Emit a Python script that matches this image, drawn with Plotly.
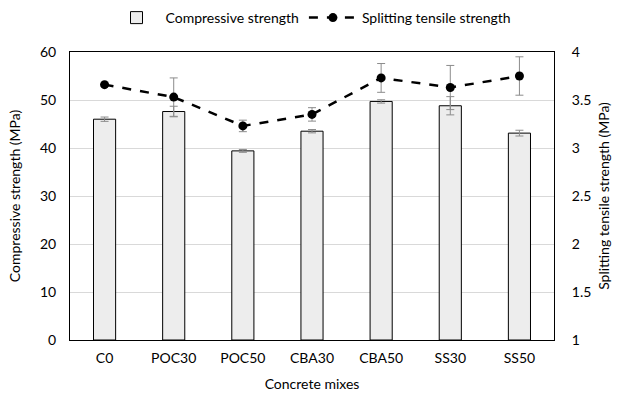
import plotly.graph_objects as go

mixes = ["C0", "POC30", "POC50", "CBA30", "CBA50", "SS30", "SS50"]
compressive = [46.0, 47.6, 39.4, 43.5, 49.7, 48.8, 43.1]
compressive_err = [0.45, 1.1, 0.3, 0.35, 0.35, 1.9, 0.6]
tensile = [3.66, 3.53, 3.23, 3.35, 3.73, 3.63, 3.75]
tensile_err = [0.0, 0.2, 0.06, 0.07, 0.15, 0.23, 0.2]

FONT = "Lato"

fig = go.Figure()
fig.add_trace(go.Bar(
    x=mixes, y=compressive, name="Compressive strength",
    marker=dict(color="#ededed", line=dict(color="#000000", width=1)),
    width=0.32,
    error_y=dict(type="data", array=compressive_err, color="#8c8c8c", thickness=1, width=4),
    yaxis="y",
))
fig.add_trace(go.Scatter(
    x=mixes, y=tensile, name="Splitting tensile strength",
    mode="lines+markers",
    line=dict(color="#000000", width=2.5, dash="dash"),
    marker=dict(color="#000000", size=9),
    error_y=dict(type="data", array=tensile_err, color="#8c8c8c", thickness=1, width=4),
    yaxis="y2",
))

fig.update_layout(
    width=619, height=393,
    margin=dict(l=70, r=65, t=52, b=53, autoexpand=False),
    paper_bgcolor="white", plot_bgcolor="white",
    font=dict(family=FONT, size=14, color="#000000"),
    showlegend=True,
    legend=dict(orientation="h", x=0.5, xanchor="center", y=1.118, yanchor="middle",
                font=dict(size=14), itemwidth=48, tracegroupgap=0),
    xaxis=dict(
        showline=True, linecolor="#000000", linewidth=1, mirror=True,
        ticks="", showgrid=False, ticklabelstandoff=5, automargin=False,
        title=dict(text="Concrete mixes", font=dict(size=14), standoff=14),
        tickfont=dict(size=14),
    ),
    yaxis=dict(
        range=[0, 60], dtick=10, automargin=False,
        showline=True, linecolor="#000000", linewidth=1, mirror=True,
        showgrid=True, gridcolor="#d9d9d9", gridwidth=1,
        zeroline=False, ticks="", ticklabelstandoff=10,
        title=dict(text="Compressive strength (MPa)", font=dict(size=14), standoff=16),
        tickfont=dict(size=14),
    ),
    yaxis2=dict(
        range=[1, 4], dtick=0.5, overlaying="y", side="right", automargin=False,
        showline=True, linecolor="#000000", linewidth=1,
        showgrid=False, zeroline=False, ticks="", ticklabelstandoff=14,
        title=dict(text="Splitting tensile strength (MPa)", font=dict(size=14), standoff=8),
        tickfont=dict(size=14),
    ),
)

fig.write_html("out.html")
